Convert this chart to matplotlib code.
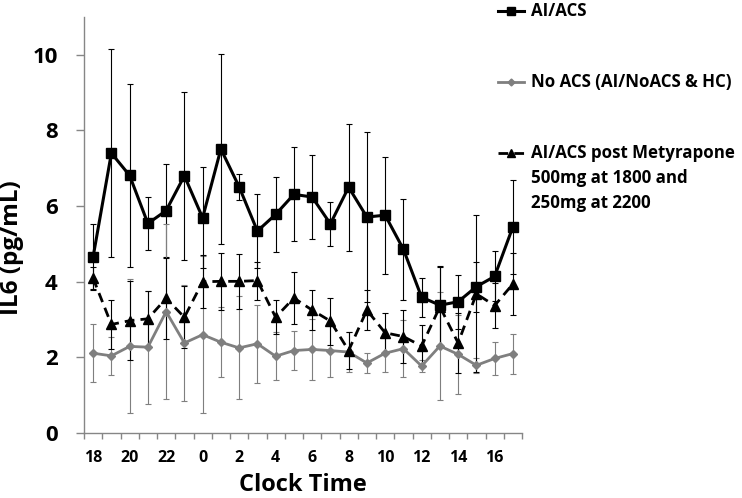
import numpy as np
import matplotlib
matplotlib.use("Agg")
import matplotlib.pyplot as plt
from matplotlib.lines import Line2D

plt.rcParams['font.family'] = ['Open Sans', 'DejaVu Sans']
plt.rcParams['font.weight'] = 'bold'

hours = [18, 19, 20, 21, 22, 23, 0, 1, 2, 3, 4, 5, 6, 7, 8, 9, 10, 11, 12, 13, 14, 15, 16, 17]

acs = [4.66, 7.40, 6.81, 5.54, 5.88, 6.80, 5.69, 7.51, 6.51, 5.34, 5.78, 6.31,
       6.24, 5.53, 6.50, 5.71, 5.76, 4.86, 3.59, 3.38, 3.47, 3.87, 4.14, 5.45]
acs_err = [0.86, 2.75, 2.41, 0.71, 1.22, 2.22, 1.34, 2.51, 0.34, 0.99, 1.00, 1.24,
           1.12, 0.58, 1.68, 2.25, 1.55, 1.33, 0.52, 1.04, 0.71, 0.66, 0.66, 1.25]

noacs = [2.11, 2.04, 2.29, 2.27, 3.21, 2.38, 2.60, 2.40, 2.25, 2.36, 2.03, 2.18,
         2.21, 2.18, 2.14, 1.85, 2.11, 2.23, 1.77, 2.30, 2.08, 1.79, 1.97, 2.10]
noacs_err = [0.76, 0.51, 1.77, 1.49, 2.32, 1.53, 2.08, 0.92, 1.36, 1.03, 0.64, 0.52,
             0.80, 0.70, 0.53, 0.26, 0.50, 0.75, 0.16, 1.43, 1.04, 0.20, 0.43, 0.53]

mety = [4.09, 2.87, 2.97, 3.02, 3.56, 3.06, 4.00, 4.01, 4.01, 4.03, 3.06, 3.57,
        3.25, 2.96, 2.18, 3.25, 2.65, 2.55, 2.30, 3.34, 2.38, 3.68, 3.37, 3.94]
mety_err = [0.31, 0.66, 1.05, 0.74, 1.08, 0.82, 0.70, 0.76, 0.72, 0.50, 0.45, 0.68,
            0.53, 0.62, 0.50, 0.52, 0.53, 0.70, 0.56, 1.05, 0.80, 2.08, 0.60, 0.82]

labels = ["AI/ACS", "No ACS (AI/NoACS & HC)",
          "AI/ACS post Metyrapone\n500mg at 1800 and\n250mg at 2200"]

W, H = 742, 498
fig = plt.figure(figsize=(W / 100, H / 100), dpi=100)
ax = fig.add_axes([84 / W, (H - 433) / H, 438 / W, 416 / H])

x = np.arange(len(hours))
grey = '#7f7f7f'
axis_col = '#868686'

ax.errorbar(x, acs, yerr=acs_err, fmt='none', ecolor='black', elinewidth=0.8,
            capsize=2.5, capthick=0.8, zorder=2)
ax.errorbar(x, noacs, yerr=noacs_err, fmt='none', ecolor=grey, elinewidth=0.8,
            capsize=2.5, capthick=0.8, zorder=2)
ax.errorbar(x, mety, yerr=mety_err, fmt='none', ecolor='black', elinewidth=0.8,
            capsize=2.5, capthick=0.8, zorder=2)

ax.plot(x, acs, color='black', lw=2.2, marker='s', ms=7.5, zorder=4)
ax.plot(x, noacs, color=grey, lw=2.0, marker='D', ms=4, zorder=3)
ax.plot(x, mety, color='black', lw=2.0, ls=(0, (3.5, 2.2)), marker='^', ms=7, zorder=3)

ax.set_xlim(-0.5, len(hours) - 0.5)
ax.set_ylim(0, 11)
ax.set_yticks([0, 2, 4, 6, 8, 10])
ax.set_xticks(np.arange(-0.5, len(hours), 1.0))
ax.set_xticklabels([])
ax.set_xticks(x[::2], minor=True)
ax.set_xticklabels([str(h) for h in hours[::2]], minor=True)

for s in ['top', 'right']:
    ax.spines[s].set_visible(False)
for s in ['left', 'bottom']:
    ax.spines[s].set_color(axis_col)
    ax.spines[s].set_linewidth(1.0)

ax.tick_params(axis='y', direction='out', length=6, width=1, color=axis_col,
               labelsize=16, pad=13)
ax.tick_params(axis='x', which='major', direction='out', length=4, width=1, color=axis_col)
ax.tick_params(axis='x', which='minor', length=0, labelsize=11.5, pad=12)
for t in ax.get_yticklabels() + ax.get_xticklabels(minor=True):
    t.set_fontweight('bold')

ax.set_ylabel("IL6 (pg/mL)", fontsize=17.5, fontweight='bold')
ax.yaxis.set_label_coords(-0.137, 0.445)
ax.set_xlabel("Clock Time", fontsize=17, fontweight='bold')
ax.xaxis.set_label_coords(0.5, -0.095)

# legend (manual, figure pixel coordinates)
def fy(py):
    return 1 - py / H

entries = [
    (dict(color='black', lw=2.2, marker='s', ms=6), 11, labels[0]),
    (dict(color=grey, lw=2.0, marker='D', ms=3.5), 82, labels[1]),
    (dict(color='black', lw=2.0, ls=(0, (3.5, 2.2)), marker='^', ms=5.5), 153, labels[2]),
]
for style, py, lab in entries:
    fig.add_artist(Line2D([498 / W, 524 / W], [fy(py), fy(py)],
                          color=style['color'], lw=style['lw'], ls=style.get('ls', '-')))
    fig.add_artist(Line2D([511 / W], [fy(py)], marker=style['marker'], ms=style['ms'],
                          color=style['color'], lw=0))
    fig.text(531 / W, fy(py - 9), lab, fontsize=12.2, fontweight='bold', va='top',
             ha='left', linespacing=1.5)

fig.savefig("out.png", dpi=100)
